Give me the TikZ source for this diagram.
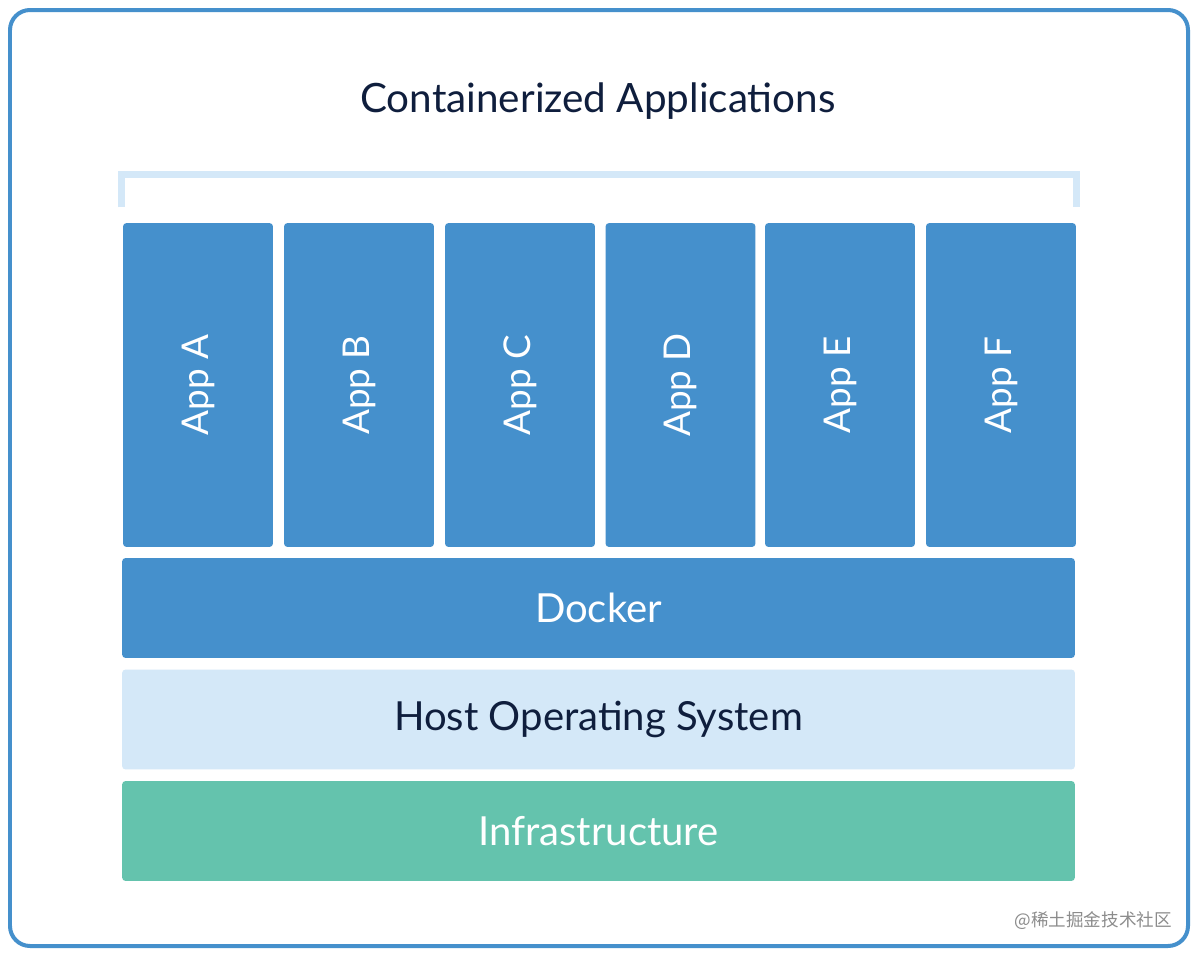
\documentclass[tikz,border=0pt]{standalone}
\usepackage{fontspec}
\setmainfont{Lato}
\newfontfamily\cjk{Noto Sans CJK SC}
\definecolor{dkblue}{HTML}{4590CC}
\definecolor{ltblue}{HTML}{D4E8F8}
\definecolor{mint}{HTML}{64C3AD}
\definecolor{navy}{HTML}{0F1E3D}
\tikzset{
  app/.style={fill=dkblue, rounded corners=2pt, minimum width=6.48cm, minimum height=3cm,
    text=white, font=\fontsize{21}{25}\selectfont, rotate=90, inner sep=0pt},
  layer/.style={rounded corners=2pt, minimum width=19.06cm, minimum height=2cm,
    font=\fontsize{22.8}{26}\selectfont, inner sep=0pt}
}
\begin{document}
\begin{tikzpicture}[x=0.02cm, y=-0.02cm]
  \useasboundingbox (0,0) rectangle (1198,957);
  \fill[white] (0,0) rectangle (1198,957);
  % outer frame
  \draw[dkblue, line width=0.08cm, rounded corners=0.4cm] (10,10) rectangle (1188,946);
  \node[text=navy, font=\fontsize{23}{27}\selectfont] (title) at (598,101) {Containerized Applications};
  % bracket over the apps
  \draw[ltblue, line width=0.14cm] (121.5,207) -- (121.5,174.5) -- (1076.5,174.5) -- (1076.5,207);
  % apps
  \node[app] (appA) at (198,385) {App A};
  \node[app] (appB) at (359,385) {App B};
  \node[app] (appC) at (520,385) {App C};
  \node[app] (appD) at (680.5,385) {App D};
  \node[app] (appE) at (840,385) {App E};
  \node[app] (appF) at (1001,385) {App F};
  % layers
  \node[layer, fill=dkblue, text=white] (docker) at (598.5,608) {Docker};
  \node[layer, fill=ltblue, text=navy] (host) at (598.5,719.5) {Host Operating System};
  \node[layer, fill=mint, text=white] (infra) at (598.5,831) {Infrastructure};
  \node[anchor=east, text=black!45, font=\cjk\fontsize{10}{12}\selectfont] (mark) at (1178,921) {@稀土掘金技术社区};
\end{tikzpicture}
\end{document}
